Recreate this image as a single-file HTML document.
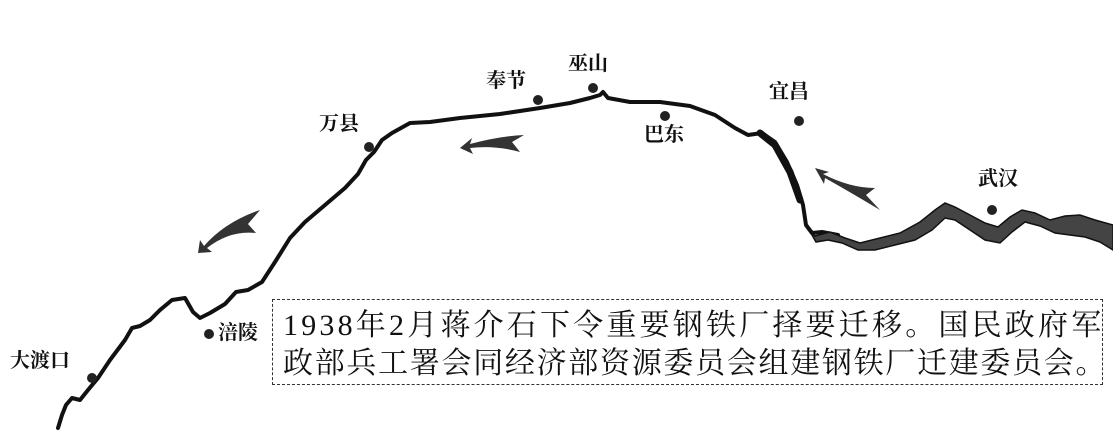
<!DOCTYPE html>
<html><head><meta charset="utf-8"><style>
body{margin:0;background:#fff;}
.w{position:relative;width:1113px;height:448px;overflow:hidden;background:#fff;font-family:"Liberation Serif","Noto Serif CJK SC",serif;}
.l{position:absolute;font-size:20px;font-weight:bold;color:#111;line-height:1;}
.box{position:absolute;left:272px;top:299px;width:829px;height:84px;border:1px dashed #333;}
.t{position:absolute;left:283px;font-size:30px;color:#111;white-space:nowrap;line-height:1;}
</style></head><body><div class="w">
<svg width="1113" height="448" style="position:absolute;left:0;top:0">
<g fill="none" stroke="#111" stroke-linejoin="round" stroke-linecap="round">
<path stroke-width="4" d="M58,428 L62,415 L66,405 L72,398 L80,400 L88,390 L98,378 L110,360 L125,340 L132,328 L140,326 L150,320 L160,310 L172,300 L185,298 L193,312 L200,318 L210,313 L225,304 L236,292 L248,290 L262,282 L275,262 L290,238 L305,222 L325,205 L345,188 L358,174 L366,160 L374,152 L382,140 L392,133 L410,123 L430,122 L460,118 L500,114 L540,108 L570,103 L590,98 L600,95 L603,92 L608,98 L630,102 L660,102 L690,106 L715,115 L735,128 L748,135 L762,133 L775,142 L787,162 L797,185 L803,205 L806,225 L812,233 L822,232 L838,235"/>
<path stroke-width="7" d="M760,133 L775,145 L790,172 L800,200"/>
</g>
<path fill="#444" stroke="#111" stroke-width="1.5" d="M808,228 L815,236 L830,232 L845,238 L860,243 L880,238 L900,233 L920,222 L935,210 L945,203 L955,207 L970,215 L985,223 L998,227 L1010,217 L1022,210 L1035,213 L1050,220 L1065,216 L1080,215 L1095,220 L1113,225 L1113,250 L1100,242 L1085,237 L1070,235 L1055,233 L1040,226 L1025,222 L1012,232 L1000,243 L985,240 L970,230 L955,220 L945,218 L932,230 L915,240 L895,245 L875,250 L858,250 L842,243 L828,240 L816,242 Z"/>
<g fill="#333">
<path d="M460,148 L472,138 L470,144 Q500,136 524,135 L512,142 L520,152 Q495,145 470,148 L473,154 Z"/>
<path d="M198,253 L200,240 L204,246 Q225,222 260,210 L248,224 L256,233 Q230,230 207,248 L212,252 Z"/>
<path d="M815,168 L829,172 L823,174 Q850,188 875,188 L866,195 L880,210 Q850,192 825,178 L824,184 Z"/>
</g>
<g fill="#222">
<circle cx="369" cy="147" r="5"/><circle cx="538" cy="100" r="5"/><circle cx="593" cy="88" r="5"/>
<circle cx="665" cy="116" r="5"/><circle cx="799" cy="121" r="5"/><circle cx="992" cy="210" r="5"/>
<circle cx="209" cy="334" r="5"/><circle cx="92" cy="378" r="5"/>
</g>
</svg>
<div class="l" style="left:319px;top:114px">万县</div>
<div class="l" style="left:486px;top:71px">奉节</div>
<div class="l" style="left:568px;top:54px">巫山</div>
<div class="l" style="left:644px;top:125px">巴东</div>
<div class="l" style="left:769px;top:82px">宜昌</div>
<div class="l" style="left:978px;top:169px">武汉</div>
<div class="l" style="left:218px;top:323px">涪陵</div>
<div class="l" style="left:10px;top:351px">大渡口</div>
<div class="box"></div>
<div class="t" style="top:311px;letter-spacing:3.2px">1938年2月蒋介石下令重要钢铁厂择要迁移。国民政府军</div>
<div class="t" style="top:349px;letter-spacing:1.7px">政部兵工署会同经济部资源委员会组建钢铁厂迁建委员会。</div>
</div></body></html>
